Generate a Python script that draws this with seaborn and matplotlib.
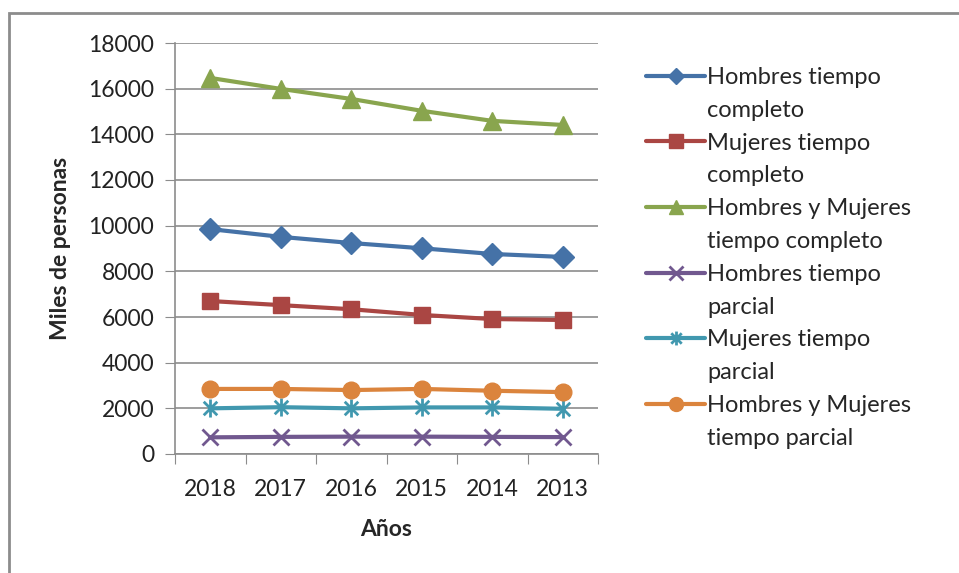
import numpy as np
import pandas as pd
import seaborn as sns
import matplotlib.pyplot as plt
from matplotlib.path import Path
from matplotlib.patches import Rectangle
from matplotlib.lines import Line2D

years = ['2018', '2017', '2016', '2015', '2014', '2013']
hombres_completo = [9850, 9510, 9240, 9010, 8760, 8630]
mujeres_completo = [6700, 6520, 6340, 6090, 5910, 5870]
ambos_completo = [16470, 15990, 15550, 15030, 14590, 14410]
hombres_parcial = [730, 750, 760, 760, 750, 740]
mujeres_parcial = [2000, 2050, 2000, 2040, 2040, 1980]
ambos_parcial = [2850, 2850, 2800, 2850, 2770, 2710]

series = {
    'Hombres tiempo\ncompleto': hombres_completo,
    'Mujeres tiempo\ncompleto': mujeres_completo,
    'Hombres y Mujeres\ntiempo completo': ambos_completo,
    'Hombres tiempo\nparcial': hombres_parcial,
    'Mujeres tiempo\nparcial': mujeres_parcial,
    'Hombres y Mujeres\ntiempo parcial': ambos_parcial,
}
names = list(series)

colors = ['#4572A7', '#AA4643', '#89A54E', '#71588F', '#4198AF', '#DB843D']
star = Path([(0, -1), (0, 1), (-0.75, -0.75), (0.75, 0.75), (-0.75, 0.75), (0.75, -0.75)],
            [Path.MOVETO, Path.LINETO, Path.MOVETO, Path.LINETO, Path.MOVETO, Path.LINETO])
markers = ['D', 's', '^', 'x', star, 'o']
msizes = [11, 12, 13, 12, 13, 12]
lsizes = [8, 10, 10, 10, 10, 10]

df = pd.DataFrame({
    'year': np.tile(years, len(names)),
    'serie': np.repeat(names, len(years)),
    'value': np.concatenate([series[n] for n in names]),
})
df['pos'] = df['year'].map({y: i for i, y in enumerate(years)})

sns.set_style('white')
plt.rcParams['font.family'] = ['Lato', 'DejaVu Sans']

fig = plt.figure(figsize=(9.59, 5.73), dpi=100)
ax = fig.add_axes([175 / 959, 1 - 454 / 573, 423 / 959, 411 / 573])

fig.patches.append(Rectangle((9 / 959, -0.1), 1.2, 1 - 13 / 573 + 0.1,
                             transform=fig.transFigure, fill=False,
                             edgecolor='#8c8c8c', linewidth=2))


def mew(m):
    return 2 if (isinstance(m, Path) or m == 'x') else 1


for name, c, m, ms in zip(names, colors, markers, msizes):
    sns.lineplot(data=df[df['serie'] == name], x='pos', y='value', ax=ax,
                 color=c, marker=m, markersize=ms, linewidth=3,
                 markeredgecolor=c, markeredgewidth=mew(m), legend=False)

ax.set_xlim(-0.5, 5.5)
ax.set_ylim(0, 18000)
ax.set_yticks(range(0, 18001, 2000))
ax.set_xticks(np.arange(-0.5, 6, 1))
ax.set_xticklabels([])
ax.set_xticks(range(6), minor=True)
ax.set_xticklabels(years, minor=True)
ax.tick_params(axis='x', which='major', length=7, color='#8c8c8c', direction='out', bottom=True)
ax.tick_params(axis='x', which='minor', length=0, pad=18, labelsize=16.5, colors='#222222')
ax.tick_params(axis='y', length=7, color='#8c8c8c', direction='out', left=True, pad=8,
               labelsize=16.5, colors='#222222')
ax.yaxis.grid(True, color='#8c8c8c', linewidth=1.2)
ax.set_axisbelow(True)
for s in ['top', 'right']:
    ax.spines[s].set_visible(False)
for s in ['left', 'bottom']:
    ax.spines[s].set_color('#8c8c8c')
    ax.spines[s].set_linewidth(1.2)

ax.set_xlabel('Años', fontsize=16.5, fontweight='bold', labelpad=14)
ax.set_ylabel('Miles de personas', fontsize=16.5, fontweight='bold', labelpad=12)

# legend: one row per text line, handle on the first line of each entry
handles, labels = [], []
for name, c, m, ls in zip(names, colors, markers, lsizes):
    first, second = name.split('\n')
    handles.append(Line2D([], [], color=c, marker=m, markersize=ls, linewidth=3,
                          markeredgecolor=c, markeredgewidth=mew(m)))
    labels.append(first)
    handles.append(Line2D([], [], linestyle='none'))
    labels.append(second)
fig.legend(handles, labels, loc='upper left', bbox_to_anchor=(646 / 959, 1 - 67 / 573),
           frameon=False, fontsize=17, handlelength=2.5, handletextpad=0.1,
           labelspacing=0.5, borderaxespad=0, borderpad=0)

fig.savefig('out.png', dpi=100)
